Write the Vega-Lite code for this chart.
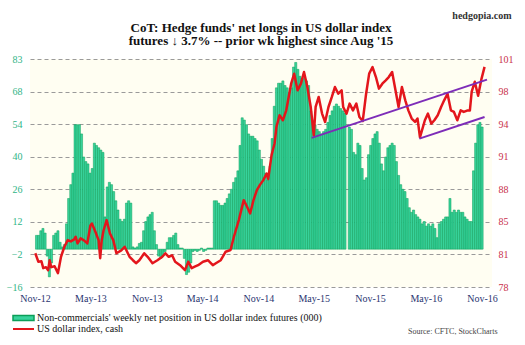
{
"$schema": "https://vega.github.io/schema/vega-lite/v6.json",
"width": 462, "height": 228,
"autosize": {"type": "none"},
"padding": {"left": 30, "top": 59, "right": 33, "bottom": 58},
"background": "white",
"title": {"text": ["CoT: Hedge funds' net longs in US dollar index", "futures ↓ 3.7% -- prior wk highest since Aug '15"], "font": "Liberation Serif", "fontSize": 13, "fontWeight": "bold", "color": "#111111", "anchor": "middle", "frame": "group", "offset": 14, "dy": 52, "lineHeight": 13.5},
"config": {"view": {"stroke": null, "fill": "#fffef2"}, "font": "Liberation Serif"},
"datasets": {
"bars": [
{"d":"2012-11-06","v":6},{"d":"2012-11-13","v":6},{"d":"2012-11-20","v":8},{"d":"2012-11-27","v":9},{"d":"2012-12-04","v":7},{"d":"2012-12-11","v":-3},{"d":"2012-12-18","v":-12},{"d":"2012-12-25","v":-6},
{"d":"2013-01-01","v":6},{"d":"2013-01-08","v":7},{"d":"2013-01-15","v":8},{"d":"2013-01-22","v":3},{"d":"2013-01-29","v":1},{"d":"2013-02-05","v":2},{"d":"2013-02-12","v":11},{"d":"2013-02-19","v":22},{"d":"2013-02-26","v":28},{"d":"2013-03-05","v":33},{"d":"2013-03-12","v":54},{"d":"2013-03-19","v":54},{"d":"2013-03-26","v":54},{"d":"2013-04-02","v":50},{"d":"2013-04-09","v":40},{"d":"2013-04-16","v":38},{"d":"2013-04-23","v":37},{"d":"2013-04-30","v":33},{"d":"2013-05-07","v":35},{"d":"2013-05-14","v":46},{"d":"2013-05-21","v":45},{"d":"2013-05-28","v":44},{"d":"2013-06-04","v":43},{"d":"2013-06-11","v":42},{"d":"2013-06-18","v":14},{"d":"2013-06-25","v":27},{"d":"2013-07-02","v":29},{"d":"2013-07-09","v":28},{"d":"2013-07-16","v":25},{"d":"2013-07-23","v":21},{"d":"2013-07-30","v":17},{"d":"2013-08-06","v":13},{"d":"2013-08-13","v":12},{"d":"2013-08-20","v":13},{"d":"2013-08-27","v":20},{"d":"2013-09-03","v":21},{"d":"2013-09-10","v":20},{"d":"2013-09-17","v":1},{"d":"2013-09-24","v":0.5},{"d":"2013-10-01","v":1},{"d":"2013-10-08","v":2.5},{"d":"2013-10-15","v":3},{"d":"2013-10-22","v":8},{"d":"2013-10-29","v":12},{"d":"2013-11-05","v":14},{"d":"2013-11-12","v":15},{"d":"2013-11-19","v":16},{"d":"2013-11-26","v":8},{"d":"2013-12-03","v":2},{"d":"2013-12-10","v":-3},{"d":"2013-12-17","v":-4},{"d":"2013-12-24","v":-3},{"d":"2013-12-31","v":-1},
{"d":"2014-01-07","v":3},{"d":"2014-01-14","v":5},{"d":"2014-01-21","v":5},{"d":"2014-01-28","v":6},{"d":"2014-02-04","v":7},{"d":"2014-02-11","v":2},{"d":"2014-02-18","v":0.5},{"d":"2014-02-25","v":0.5},{"d":"2014-03-04","v":-4},{"d":"2014-03-11","v":-11},{"d":"2014-03-18","v":-10},{"d":"2014-03-25","v":-6},{"d":"2014-04-01","v":-1},{"d":"2014-04-08","v":-0.5},{"d":"2014-04-15","v":-1},{"d":"2014-04-22","v":-0.5},{"d":"2014-04-29","v":0.5},{"d":"2014-05-06","v":-1},{"d":"2014-05-13","v":-0.5},{"d":"2014-05-20","v":0.5},{"d":"2014-05-27","v":0.5},{"d":"2014-06-03","v":0.5},{"d":"2014-06-10","v":21},{"d":"2014-06-17","v":21},{"d":"2014-06-24","v":20},{"d":"2014-07-01","v":19},{"d":"2014-07-08","v":19},{"d":"2014-07-15","v":20},{"d":"2014-07-22","v":22},{"d":"2014-07-29","v":24},{"d":"2014-08-05","v":26},{"d":"2014-08-12","v":29},{"d":"2014-08-19","v":31},{"d":"2014-08-26","v":34},{"d":"2014-09-02","v":45},{"d":"2014-09-09","v":57},{"d":"2014-09-16","v":56},{"d":"2014-09-23","v":54},{"d":"2014-09-30","v":50},{"d":"2014-10-07","v":49},{"d":"2014-10-14","v":49},{"d":"2014-10-21","v":48},{"d":"2014-10-28","v":47},{"d":"2014-11-04","v":43},{"d":"2014-11-11","v":39},{"d":"2014-11-18","v":36},{"d":"2014-11-25","v":33},{"d":"2014-12-02","v":30},{"d":"2014-12-09","v":36},{"d":"2014-12-16","v":48},{"d":"2014-12-23","v":62},{"d":"2014-12-30","v":70},
{"d":"2015-01-06","v":72},{"d":"2015-01-13","v":72},{"d":"2015-01-20","v":73},{"d":"2015-01-27","v":71},{"d":"2015-02-03","v":70},{"d":"2015-02-10","v":68},{"d":"2015-02-17","v":70},{"d":"2015-02-24","v":79},{"d":"2015-03-03","v":81},{"d":"2015-03-10","v":78},{"d":"2015-03-17","v":75},{"d":"2015-03-24","v":74},{"d":"2015-03-31","v":74},{"d":"2015-04-07","v":73},{"d":"2015-04-14","v":71},{"d":"2015-04-21","v":60},{"d":"2015-04-28","v":55},{"d":"2015-05-05","v":54},{"d":"2015-05-12","v":52},{"d":"2015-05-19","v":51},{"d":"2015-05-26","v":50},{"d":"2015-06-02","v":51},{"d":"2015-06-09","v":52},{"d":"2015-06-16","v":55},{"d":"2015-06-23","v":58},{"d":"2015-06-30","v":60},{"d":"2015-07-07","v":62},{"d":"2015-07-14","v":63},{"d":"2015-07-21","v":62},{"d":"2015-07-28","v":61},{"d":"2015-08-04","v":60},{"d":"2015-08-11","v":59},{"d":"2015-08-25","v":53},{"d":"2015-09-01","v":52},{"d":"2015-09-08","v":42},{"d":"2015-09-15","v":41},{"d":"2015-09-22","v":46},{"d":"2015-09-29","v":45},{"d":"2015-10-06","v":35},{"d":"2015-10-13","v":30},{"d":"2015-10-20","v":31},{"d":"2015-10-27","v":41},{"d":"2015-11-03","v":45},{"d":"2015-11-10","v":48},{"d":"2015-11-17","v":50},{"d":"2015-11-24","v":51},{"d":"2015-12-01","v":46},{"d":"2015-12-08","v":37},{"d":"2015-12-15","v":34},{"d":"2015-12-22","v":40},{"d":"2015-12-29","v":44},
{"d":"2016-01-05","v":45},{"d":"2016-01-12","v":46},{"d":"2016-01-19","v":45},{"d":"2016-01-26","v":38},{"d":"2016-02-02","v":32},{"d":"2016-02-09","v":28},{"d":"2016-02-16","v":26},{"d":"2016-02-23","v":25},{"d":"2016-03-01","v":22},{"d":"2016-03-08","v":18},{"d":"2016-03-15","v":16},{"d":"2016-03-22","v":17},{"d":"2016-03-29","v":15},{"d":"2016-04-05","v":14},{"d":"2016-04-12","v":13},{"d":"2016-04-19","v":11},{"d":"2016-04-26","v":12},{"d":"2016-05-03","v":10},{"d":"2016-05-10","v":11},{"d":"2016-05-17","v":10},{"d":"2016-05-24","v":11},{"d":"2016-05-31","v":9},{"d":"2016-06-07","v":5},{"d":"2016-06-14","v":11},{"d":"2016-06-21","v":12},{"d":"2016-06-28","v":13},{"d":"2016-07-05","v":14},{"d":"2016-07-12","v":14},{"d":"2016-07-19","v":22},{"d":"2016-07-26","v":16},{"d":"2016-08-02","v":17},{"d":"2016-08-09","v":16},{"d":"2016-08-16","v":17},{"d":"2016-08-23","v":16},{"d":"2016-08-30","v":16},{"d":"2016-09-06","v":14},{"d":"2016-09-13","v":13},{"d":"2016-09-20","v":12},{"d":"2016-09-27","v":12},{"d":"2016-10-04","v":34},{"d":"2016-10-11","v":46},{"d":"2016-10-18","v":54},{"d":"2016-10-25","v":55},{"d":"2016-11-01","v":53}
],
"dxy": [
{"d":"2012-11-02","v":81.4},{"d":"2012-11-12","v":80.55},{"d":"2012-11-22","v":80.6},{"d":"2012-11-28","v":79.9},{"d":"2012-12-07","v":80.0},{"d":"2012-12-14","v":79.7},{"d":"2012-12-19","v":80.7},{"d":"2012-12-24","v":80.0},
{"d":"2013-01-04","v":80.1},{"d":"2013-01-15","v":79.4},{"d":"2013-01-25","v":81.05},{"d":"2013-02-05","v":82.06},{"d":"2013-02-16","v":82.73},{"d":"2013-02-26","v":82.6},{"d":"2013-03-09","v":82.8},{"d":"2013-03-14","v":83.07},{"d":"2013-03-20","v":82.4},{"d":"2013-03-30","v":82.9},{"d":"2013-04-10","v":82.7},{"d":"2013-04-21","v":82.4},{"d":"2013-05-01","v":84.2},{"d":"2013-05-06","v":84.4},{"d":"2013-05-17","v":83.6},{"d":"2013-05-28","v":82.7},{"d":"2013-06-02","v":80.9},{"d":"2013-06-07","v":82.7},{"d":"2013-06-13","v":83.7},{"d":"2013-06-23","v":84.75},{"d":"2013-07-04","v":83.4},{"d":"2013-07-15","v":82.7},{"d":"2013-07-25","v":81.4},{"d":"2013-08-10","v":81.7},{"d":"2013-08-21","v":82.06},{"d":"2013-09-06","v":81.05},{"d":"2013-09-17","v":80.7},{"d":"2013-09-27","v":80.4},{"d":"2013-10-08","v":80.7},{"d":"2013-10-24","v":81.4},{"d":"2013-11-04","v":81.05},{"d":"2013-11-20","v":80.4},{"d":"2013-12-06","v":80.7},{"d":"2013-12-22","v":81.05},
{"d":"2014-01-01","v":81.4},{"d":"2014-01-12","v":81.05},{"d":"2014-01-23","v":81.2},{"d":"2014-02-02","v":80.55},{"d":"2014-02-18","v":80.2},{"d":"2014-03-06","v":79.7},{"d":"2014-03-17","v":80.55},{"d":"2014-03-28","v":79.9},{"d":"2014-04-07","v":80.05},{"d":"2014-04-18","v":80.2},{"d":"2014-05-04","v":80.55},{"d":"2014-05-20","v":80.7},{"d":"2014-06-05","v":80.2},{"d":"2014-06-15","v":80.4},{"d":"2014-07-01","v":80.7},{"d":"2014-07-17","v":81.56},{"d":"2014-08-02","v":81.73},{"d":"2014-08-13","v":83.07},{"d":"2014-08-29","v":84.75},{"d":"2014-09-14","v":86.76},{"d":"2014-09-25","v":86.09},{"d":"2014-10-05","v":85.42},{"d":"2014-10-16","v":86.76},{"d":"2014-10-27","v":87.77},{"d":"2014-11-06","v":88.3},{"d":"2014-11-17","v":88.78},{"d":"2014-11-28","v":89.45},{"d":"2014-12-03","v":88.9},{"d":"2014-12-14","v":91.3},{"d":"2014-12-24","v":92.5},{"d":"2014-12-30","v":94.15},
{"d":"2015-01-09","v":95.32},{"d":"2015-01-20","v":94.82},{"d":"2015-01-31","v":95.82},{"d":"2015-02-16","v":98.51},{"d":"2015-02-26","v":99.52},{"d":"2015-03-09","v":97.84},{"d":"2015-03-20","v":98.51},{"d":"2015-03-30","v":99.69},{"d":"2015-04-10","v":98.17},{"d":"2015-04-21","v":96.16},{"d":"2015-05-01","v":93.3},{"d":"2015-05-07","v":96.16},{"d":"2015-05-17","v":97.17},{"d":"2015-05-28","v":95.49},{"d":"2015-06-07","v":94.65},{"d":"2015-06-18","v":96.16},{"d":"2015-06-29","v":97.17},{"d":"2015-07-09","v":98.17},{"d":"2015-07-20","v":97.5},{"d":"2015-07-31","v":97.84},{"d":"2015-08-05","v":96.16},{"d":"2015-08-16","v":95.49},{"d":"2015-08-26","v":96.5},{"d":"2015-09-06","v":95.82},{"d":"2015-09-17","v":96.5},{"d":"2015-09-27","v":95.15},{"d":"2015-10-08","v":94.75},{"d":"2015-10-19","v":97.5},{"d":"2015-10-29","v":99.52},{"d":"2015-11-09","v":100.19},{"d":"2015-11-20","v":99.18},{"d":"2015-11-30","v":98.01},{"d":"2015-12-11","v":98.51},{"d":"2015-12-22","v":98.85},
{"d":"2016-01-01","v":99.18},{"d":"2016-01-12","v":99.69},{"d":"2016-01-23","v":97.84},{"d":"2016-02-02","v":96.16},{"d":"2016-02-13","v":98.17},{"d":"2016-02-24","v":96.83},{"d":"2016-03-05","v":95.82},{"d":"2016-03-16","v":94.99},{"d":"2016-03-27","v":94.65},{"d":"2016-04-04","v":94.99},{"d":"2016-04-12","v":93.1},{"d":"2016-04-28","v":94.82},{"d":"2016-05-08","v":95.49},{"d":"2016-05-19","v":94.48},{"d":"2016-05-29","v":94.82},{"d":"2016-06-09","v":95.32},{"d":"2016-06-20","v":96.16},{"d":"2016-06-30","v":96.83},{"d":"2016-07-11","v":97.5},{"d":"2016-07-22","v":95.82},{"d":"2016-08-01","v":95.66},{"d":"2016-08-12","v":94.82},{"d":"2016-08-23","v":95.82},{"d":"2016-09-02","v":95.66},{"d":"2016-09-13","v":95.8},{"d":"2016-09-22","v":95.8},{"d":"2016-09-28","v":97.7},{"d":"2016-10-08","v":98.7},{"d":"2016-10-19","v":97.3},{"d":"2016-10-30","v":99.0},{"d":"2016-11-09","v":100.2}
],
"trend": [
{"d":"2015-04-24","v":93.04,"s":"upper"},{"d":"2016-11-17","v":98.92,"s":"upper"},
{"d":"2016-04-10","v":92.97,"s":"lower"},{"d":"2016-11-09","v":95.15,"s":"lower"}
]
},
"encoding": {
"x": {"field": "d", "type": "temporal",
 "scale": {"type": "utc", "domain": [{"year": 2012, "month": 11, "date": 1, "utc": true}, {"year": 2016, "month": 11, "date": 17, "utc": true}]},
 "axis": {"values": [{"year":2012,"month":11,"date":1,"utc":true},{"year":2013,"month":5,"date":1,"utc":true},{"year":2013,"month":11,"date":1,"utc":true},{"year":2014,"month":5,"date":1,"utc":true},{"year":2014,"month":11,"date":1,"utc":true},{"year":2015,"month":5,"date":1,"utc":true},{"year":2015,"month":11,"date":1,"utc":true},{"year":2016,"month":5,"date":1,"utc":true},{"year":2016,"month":11,"date":1,"utc":true}],
  "format": "%b-%y", "labelFont": "Liberation Serif", "labelFontSize": 10, "labelColor": "#2a3470", "labelPadding": 6, "labelFlush": false, "labelOverlap": false, "labelBound": false,
  "ticks": false, "domain": false, "grid": false,
  "title": "Source: CFTC, StockCharts", "titleFont": "Liberation Serif", "titleFontSize": 8, "titleFontWeight": "normal", "titleColor": "#444444", "titleAlign": "right", "titleAnchor": "end", "titleBaseline": "middle", "titleX": 467, "titleY": 44}}
},
"layer": [
{"data": {"name": "bars"},
 "mark": {"type": "bar", "size": 2.1, "stroke": "#0b9e58", "strokeWidth": 0.5},
 "encoding": {
  "y": {"field": "v", "type": "quantitative", "scale": {"domain": [-16.4, 82.5], "nice": false, "zero": false},
   "axis": {"values": [-16.4, -2.2714, 11.8571, 25.9857, 40.1143, 54.2429, 68.3714, 82.5], "format": ".0f", "labelFont": "Liberation Serif", "labelFontSize": 10, "labelColor": "#2fb487", "labelPadding": 8, "labelFlush": false, "ticks": false, "domain": false, "grid": true, "gridDash": [4, 3], "gridColor": "#9a9a9a", "gridWidth": 1, "title": null}},
  "y2": {"datum": 0},
  "color": {"datum": "Non-commercials' weekly net position in US dollar index futures (000)", "scale": {"range": ["#38d39c"]},
   "legend": {"orient": "none", "legendX": -18, "legendY": 247.5, "title": null, "symbolType": "M-1,-0.24H1V0.24H-1Z", "symbolSize": 441, "labelFont": "Liberation Serif", "labelFontSize": 10, "labelColor": "#111111", "labelOffset": 2, "labelLimit": 400,
    "encode": {"symbols": {"update": {"fill": {"value": "#1fc44e"}, "stroke": {"value": "#1fc44e"}, "strokeWidth": {"value": 0}, "opacity": {"value": 1}}}}}}
 }},
{"layer": [
  {"data": {"name": "dxy"},
   "mark": {"type": "line", "strokeWidth": 2.5, "strokeJoin": "round"},
   "encoding": {
    "stroke": {"datum": "US dollar index, cash", "scale": {"range": ["#e3161c"]},
     "legend": {"orient": "none", "legendX": -18, "legendY": 258.5, "title": null, "symbolType": "stroke", "symbolSize": 441, "symbolStrokeWidth": 2, "labelFont": "Liberation Serif", "labelFontSize": 10, "labelColor": "#111111", "labelOffset": 2, "labelLimit": 400}}
   }},
  {"data": {"name": "trend"},
   "mark": {"type": "line", "strokeWidth": 2, "color": "#7d2cb8"},
   "encoding": {"detail": {"field": "s"}}}
 ],
 "encoding": {
  "y": {"field": "v", "type": "quantitative", "scale": {"domain": [78, 101], "nice": false, "zero": false},
   "axis": {"orient": "right", "values": [78, 81.2857, 84.5714, 87.8571, 91.1429, 94.4286, 97.7143, 101], "format": ".0f", "labelFont": "Liberation Serif", "labelFontSize": 10, "labelColor": "#c9304a", "labelPadding": 6, "labelFlush": false, "ticks": false, "domain": false, "grid": false,
    "title": "hedgopia.com", "titleAngle": 0, "titleFont": "Liberation Serif", "titleFontSize": 10, "titleFontWeight": "bold", "titleColor": "#333333", "titleAlign": "right", "titleBaseline": "middle", "titleX": 19, "titleY": -44}}
 }}
],
"resolve": {"scale": {"y": "independent"}}
}
